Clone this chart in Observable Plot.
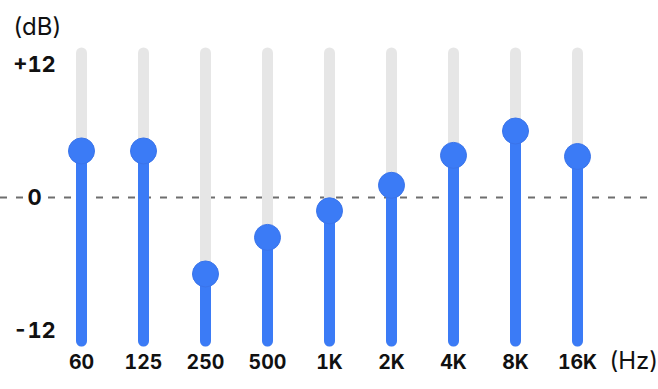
<!DOCTYPE html>
<html>
<head>
<meta charset="utf-8">
<script src="https://cdn.jsdelivr.net/npm/d3@7"></script>
<script src="https://cdn.jsdelivr.net/npm/@observablehq/plot@0.6"></script>
<style>
  html, body { margin: 0; padding: 0; background: #fff; }
  svg { display: block; }
</style>
</head>
<body>
<div id="chart"></div>
<script>
const bands = ["60", "125", "250", "500", "1K", "2K", "4K", "8K", "16K"];
const gains = [4.2, 4.2, -6.9, -3.6, -1.2, 1.1, 3.8, 6.0, 3.7];
const yTicks = [12, 0, -12];
const yTickLabels = ["+12", "0", "-12"];
const trackMin = -13;
const trackMax = 13;

const data = bands.map((b, i) => ({band: b, gain: gains[i]}));
const ticks = yTicks.map((v, i) => ({v, label: yTickLabels[i]}));

const font = "Inter, 'Noto Sans', sans-serif";
const blue = "#3b7bf6";

const chart = Plot.plot({
  width: 658,
  height: 389,
  marginLeft: 79,
  marginRight: 79,
  marginTop: 64,
  marginBottom: 59,
  style: {fontFamily: font, background: "#fff", overflow: "visible"},
  x: {type: "point", domain: bands, padding: 0, axis: null},
  y: {domain: [-12, 12], axis: null},
  marks: [
    Plot.ruleY([0], {stroke: "#6e6e6e", strokeWidth: 2, strokeDasharray: "7,9", insetLeft: -79, insetRight: -76}),
    Plot.ruleX(data, {x: "band", y1: trackMin, y2: trackMax, stroke: "#e6e6e6", strokeWidth: 11, strokeLinecap: "round"}),
    Plot.ruleX(data, {x: "band", y1: trackMin, y2: "gain", stroke: blue, strokeWidth: 11, strokeLinecap: "round"}),
    Plot.dot(data, {x: "band", y: "gain", r: 13, fill: blue, stroke: "#3a74ea", strokeWidth: 1}),
    Plot.text(ticks, {y: "v", text: "label", frameAnchor: "left", dx: -45, textAnchor: "middle", fontSize: 22, fontWeight: 700, fontVariant: "tabular-nums", fill: "#111", stroke: "#fff", strokeWidth: 8, paintOrder: "stroke"}),
    Plot.text(data, {x: "band", text: "band", frameAnchor: "bottom", dy: 38, fontSize: 19.5, fontWeight: 700, fontVariant: "tabular-nums", fill: "#111"}),
    Plot.text(["(dB)"], {frameAnchor: "top-left", dx: -66, dy: -47, textAnchor: "start", fontSize: 24, fill: "#111"}),
    Plot.text(["(Hz)"], {frameAnchor: "bottom-right", dx: 30, dy: 38, textAnchor: "start", fontSize: 24, fill: "#111"})
  ]
});
document.getElementById("chart").appendChild(chart);
</script>
</body>
</html>
